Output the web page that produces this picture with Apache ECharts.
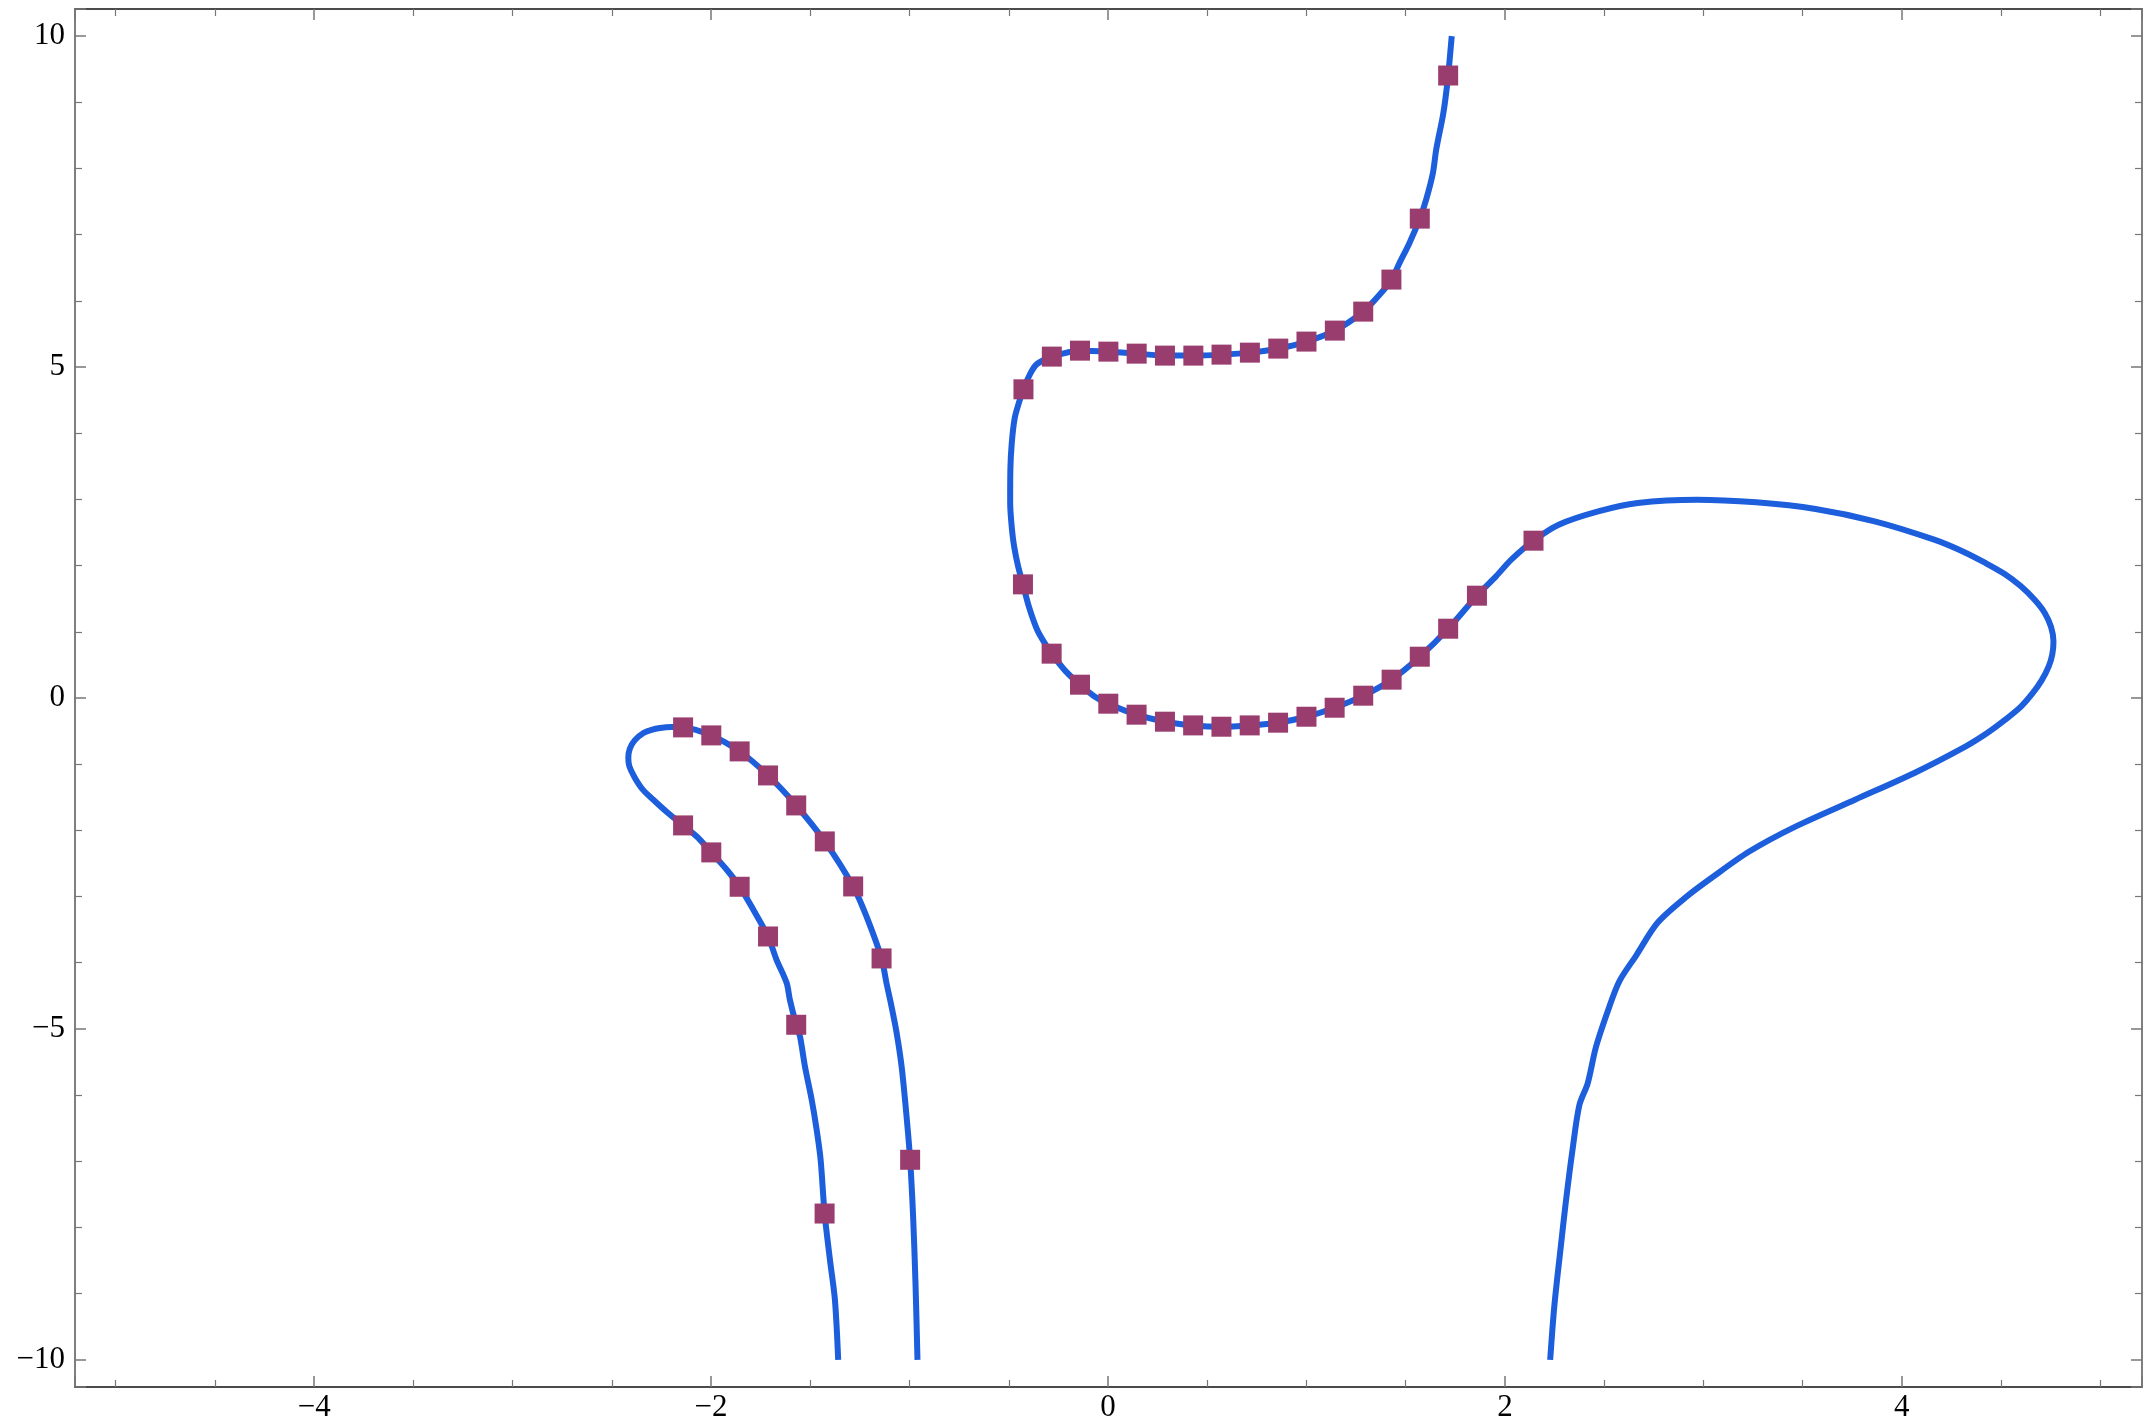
<!DOCTYPE html>
<html>
<head>
<meta charset="utf-8">
<script src="https://cdn.jsdelivr.net/npm/echarts@6/dist/echarts.min.js"></script>
<style>
html,body{margin:0;padding:0;background:#fff;}
#chart{width:2143px;height:1422px;}
</style>
</head>
<body>
<div id="chart"></div>
<script>
// Plot ranges
const xRange = [-5.205, 5.21];
const yRange = [-10.41, 10.41];

// Curve A: from top (x≈1.73, y=10) down through the two plateaus, around the right loop, down to y=-10
const curveA = [
  [1.732, 10.0], [1.714, 9.405], [1.700, 9.05], [1.687, 8.79], [1.654, 8.29], [1.637, 7.93],
  [1.603, 7.53], [1.571, 7.243], [1.519, 6.876], [1.469, 6.574], [1.428, 6.322], [1.369, 6.095],
  [1.286, 5.838], [1.143, 5.551], [1.000, 5.385], [0.858, 5.279], [0.715, 5.218], [0.572, 5.188],
  [0.430, 5.173], [0.287, 5.173], [0.145, 5.203], [0.002, 5.233], [-0.141, 5.248], [-0.283, 5.158],
  [-0.360, 5.04], [-0.394, 4.886], [-0.426, 4.664], [-0.450, 4.45], [-0.470, 4.23], [-0.485, 3.85],
  [-0.492, 3.45], [-0.493, 2.95], [-0.484, 2.55], [-0.473, 2.29], [-0.453, 1.99], [-0.4285, 1.717],
  [-0.399, 1.385], [-0.357, 1.032], [-0.309, 0.78], [-0.284, 0.670], [-0.2125, 0.402], [-0.141, 0.201],
  [-0.068, 0.024], [0.0015, -0.086], [0.144, -0.252], [0.287, -0.358], [0.429, -0.414], [0.5715, -0.434],
  [0.714, -0.414], [0.857, -0.373], [1.0, -0.283], [1.142, -0.147], [1.286, 0.035], [1.429, 0.277],
  [1.571, 0.624], [1.714, 1.047], [1.859, 1.546], [1.955, 1.838], [2.032, 2.09], [2.144, 2.377],
  [2.271, 2.619], [2.470, 2.82], [2.669, 2.947], [2.968, 2.997], [3.266, 2.956], [3.565, 2.856],
  [3.863, 2.669], [4.163, 2.392], [4.310, 2.21], [4.421, 2.04], [4.520, 1.87], [4.600, 1.687],
  [4.670, 1.48], [4.720, 1.285], [4.752, 1.07], [4.764, 0.855], [4.758, 0.66], [4.740, 0.478],
  [4.705, 0.27], [4.660, 0.076], [4.600, -0.13], [4.521, -0.328], [4.430, -0.53], [4.322, -0.731],
  [4.063, -1.133], [3.764, -1.537], [3.466, -1.940], [3.231, -2.320], [3.046, -2.707], [2.912, -3.009],
  [2.769, -3.396], [2.661, -3.891], [2.577, -4.277], [2.526, -4.664], [2.459, -5.27], [2.417, -5.822],
  [2.375, -6.152], [2.341, -6.815], [2.308, -7.585], [2.283, -8.247], [2.249, -9.184], [2.228, -10.0]
];

// Curve B: left loop, from bottom-left arm up around the top and down the right arm
const curveB = [
  [-1.3595, -10.0], [-1.376, -9.093], [-1.401, -8.489], [-1.428, -7.789], [-1.448, -6.977],
  [-1.468, -6.524], [-1.493, -6.07], [-1.527, -5.567], [-1.552, -5.114], [-1.571, -4.937],
  [-1.603, -4.559], [-1.619, -4.307], [-1.670, -3.955], [-1.713, -3.603], [-1.787, -3.199],
  [-1.856, -2.852], [-1.921, -2.595], [-1.999, -2.333], [-2.072, -2.092], [-2.141, -1.925],
  [-2.220, -1.73], [-2.291, -1.537], [-2.345, -1.38], [-2.385, -1.20], [-2.412, -1.03],
  [-2.417, -0.907], [-2.410, -0.77], [-2.385, -0.64], [-2.341, -0.529], [-2.300, -0.48],
  [-2.257, -0.453], [-2.200, -0.440], [-2.141, -0.444], [-1.999, -0.565], [-1.856, -0.807],
  [-1.713, -1.170], [-1.571, -1.623], [-1.427, -2.167], [-1.284, -2.847], [-1.217, -3.30],
  [-1.141, -3.935], [-1.116, -4.31], [-1.095, -4.6], [-1.065, -5.06], [-1.040, -5.567],
  [-1.015, -6.323], [-0.997, -6.977], [-0.982, -7.834], [-0.970, -8.841], [-0.960, -10.0]
];

// Marker points
const markersUpper = [
  [1.714, 9.405], [1.571, 7.243], [1.428, 6.322], [1.286, 5.838], [1.143, 5.551], [1.0, 5.385],
  [0.858, 5.279], [0.715, 5.218], [0.572, 5.188], [0.43, 5.173], [0.287, 5.173], [0.1445, 5.203],
  [0.002, 5.233], [-0.141, 5.248], [-0.283, 5.158], [-0.426, 4.664]
];
const markersLower = [
  [-0.4285, 1.717], [-0.284, 0.670], [-0.141, 0.201], [0.0015, -0.086], [0.144, -0.252],
  [0.287, -0.358], [0.429, -0.414], [0.5715, -0.434], [0.714, -0.414], [0.857, -0.373],
  [1.0, -0.283], [1.142, -0.147], [1.286, 0.035], [1.429, 0.277], [1.571, 0.624],
  [1.714, 1.047], [1.859, 1.546], [2.144, 2.377]
];
const markersLeftOuter = [
  [-2.141, -0.444], [-1.999, -0.565], [-1.856, -0.807], [-1.713, -1.17], [-1.571, -1.623],
  [-1.427, -2.167], [-1.284, -2.847], [-1.141, -3.935], [-0.997, -6.977]
];
const markersLeftInner = [
  [-2.141, -1.925], [-1.999, -2.333], [-1.856, -2.852], [-1.713, -3.603], [-1.571, -4.937],
  [-1.428, -7.789]
];

const LINE = '#1C5EDC';
const MARK = '#993D6E';
const FONT = "'Liberation Serif', 'Times New Roman', serif";

function fmt(v) {
  if (Math.abs(v - Math.round(v)) > 1e-9) return '';
  return String(Math.round(v)).replace('-', '\u2212');
}

function mkAxis(kind, pos, showLabel, lineColor) {
  const isX = kind === 'x';
  return {
    type: 'value',
    position: pos,
    min: isX ? xRange[0] : yRange[0],
    max: isX ? xRange[1] : yRange[1],
    splitNumber: isX ? 5 : 4,
    axisLine: { show: true, onZero: false, lineStyle: { color: lineColor, width: 1.5 } },
    axisTick: { show: true, inside: true, length: 11, lineStyle: { color: '#777', width: 1.5 } },
    minorTick: { show: true, splitNumber: isX ? 4 : 5, length: 7, lineStyle: { color: '#777', width: 1.2 } },
    splitLine: { show: false },
    minorSplitLine: { show: false },
    axisLabel: {
      show: showLabel,
      showMinLabel: false,
      showMaxLabel: false,
      formatter: fmt,
      fontFamily: FONT,
      fontSize: 31,
      color: '#000',
      margin: isX ? 5 : 10
    }
  };
}

const chart = echarts.init(document.getElementById('chart'), null, { renderer: 'canvas' });

const scatterStyle = (data) => ({
  type: 'scatter',
  data: data,
  symbol: 'rect',
  symbolSize: 20,
  itemStyle: { color: MARK, opacity: 1 },
  z: 5,
  silent: true
});

chart.setOption({
  animation: false,
  backgroundColor: '#fff',
  grid: { left: 75, right: 1, top: 9, bottom: 35, outerBoundsMode: 'none', containLabel: false },
  xAxis: [mkAxis('x', 'bottom', true, '#111'), mkAxis('x', 'top', false, '#111')],
  yAxis: [mkAxis('y', 'left', true, '#555'), mkAxis('y', 'right', false, '#555')],
  series: [
    { type: 'line', data: curveA, showSymbol: false, symbol: 'none', smooth: 0.3,
      lineStyle: { color: LINE, width: 6 }, z: 2, silent: true, clip: true },
    { type: 'line', data: curveB, showSymbol: false, symbol: 'none', smooth: 0.3,
      lineStyle: { color: LINE, width: 6 }, z: 2, silent: true, clip: true },
    scatterStyle(markersUpper),
    scatterStyle(markersLower),
    scatterStyle(markersLeftOuter),
    scatterStyle(markersLeftInner)
  ]
});
</script>
</body>
</html>
